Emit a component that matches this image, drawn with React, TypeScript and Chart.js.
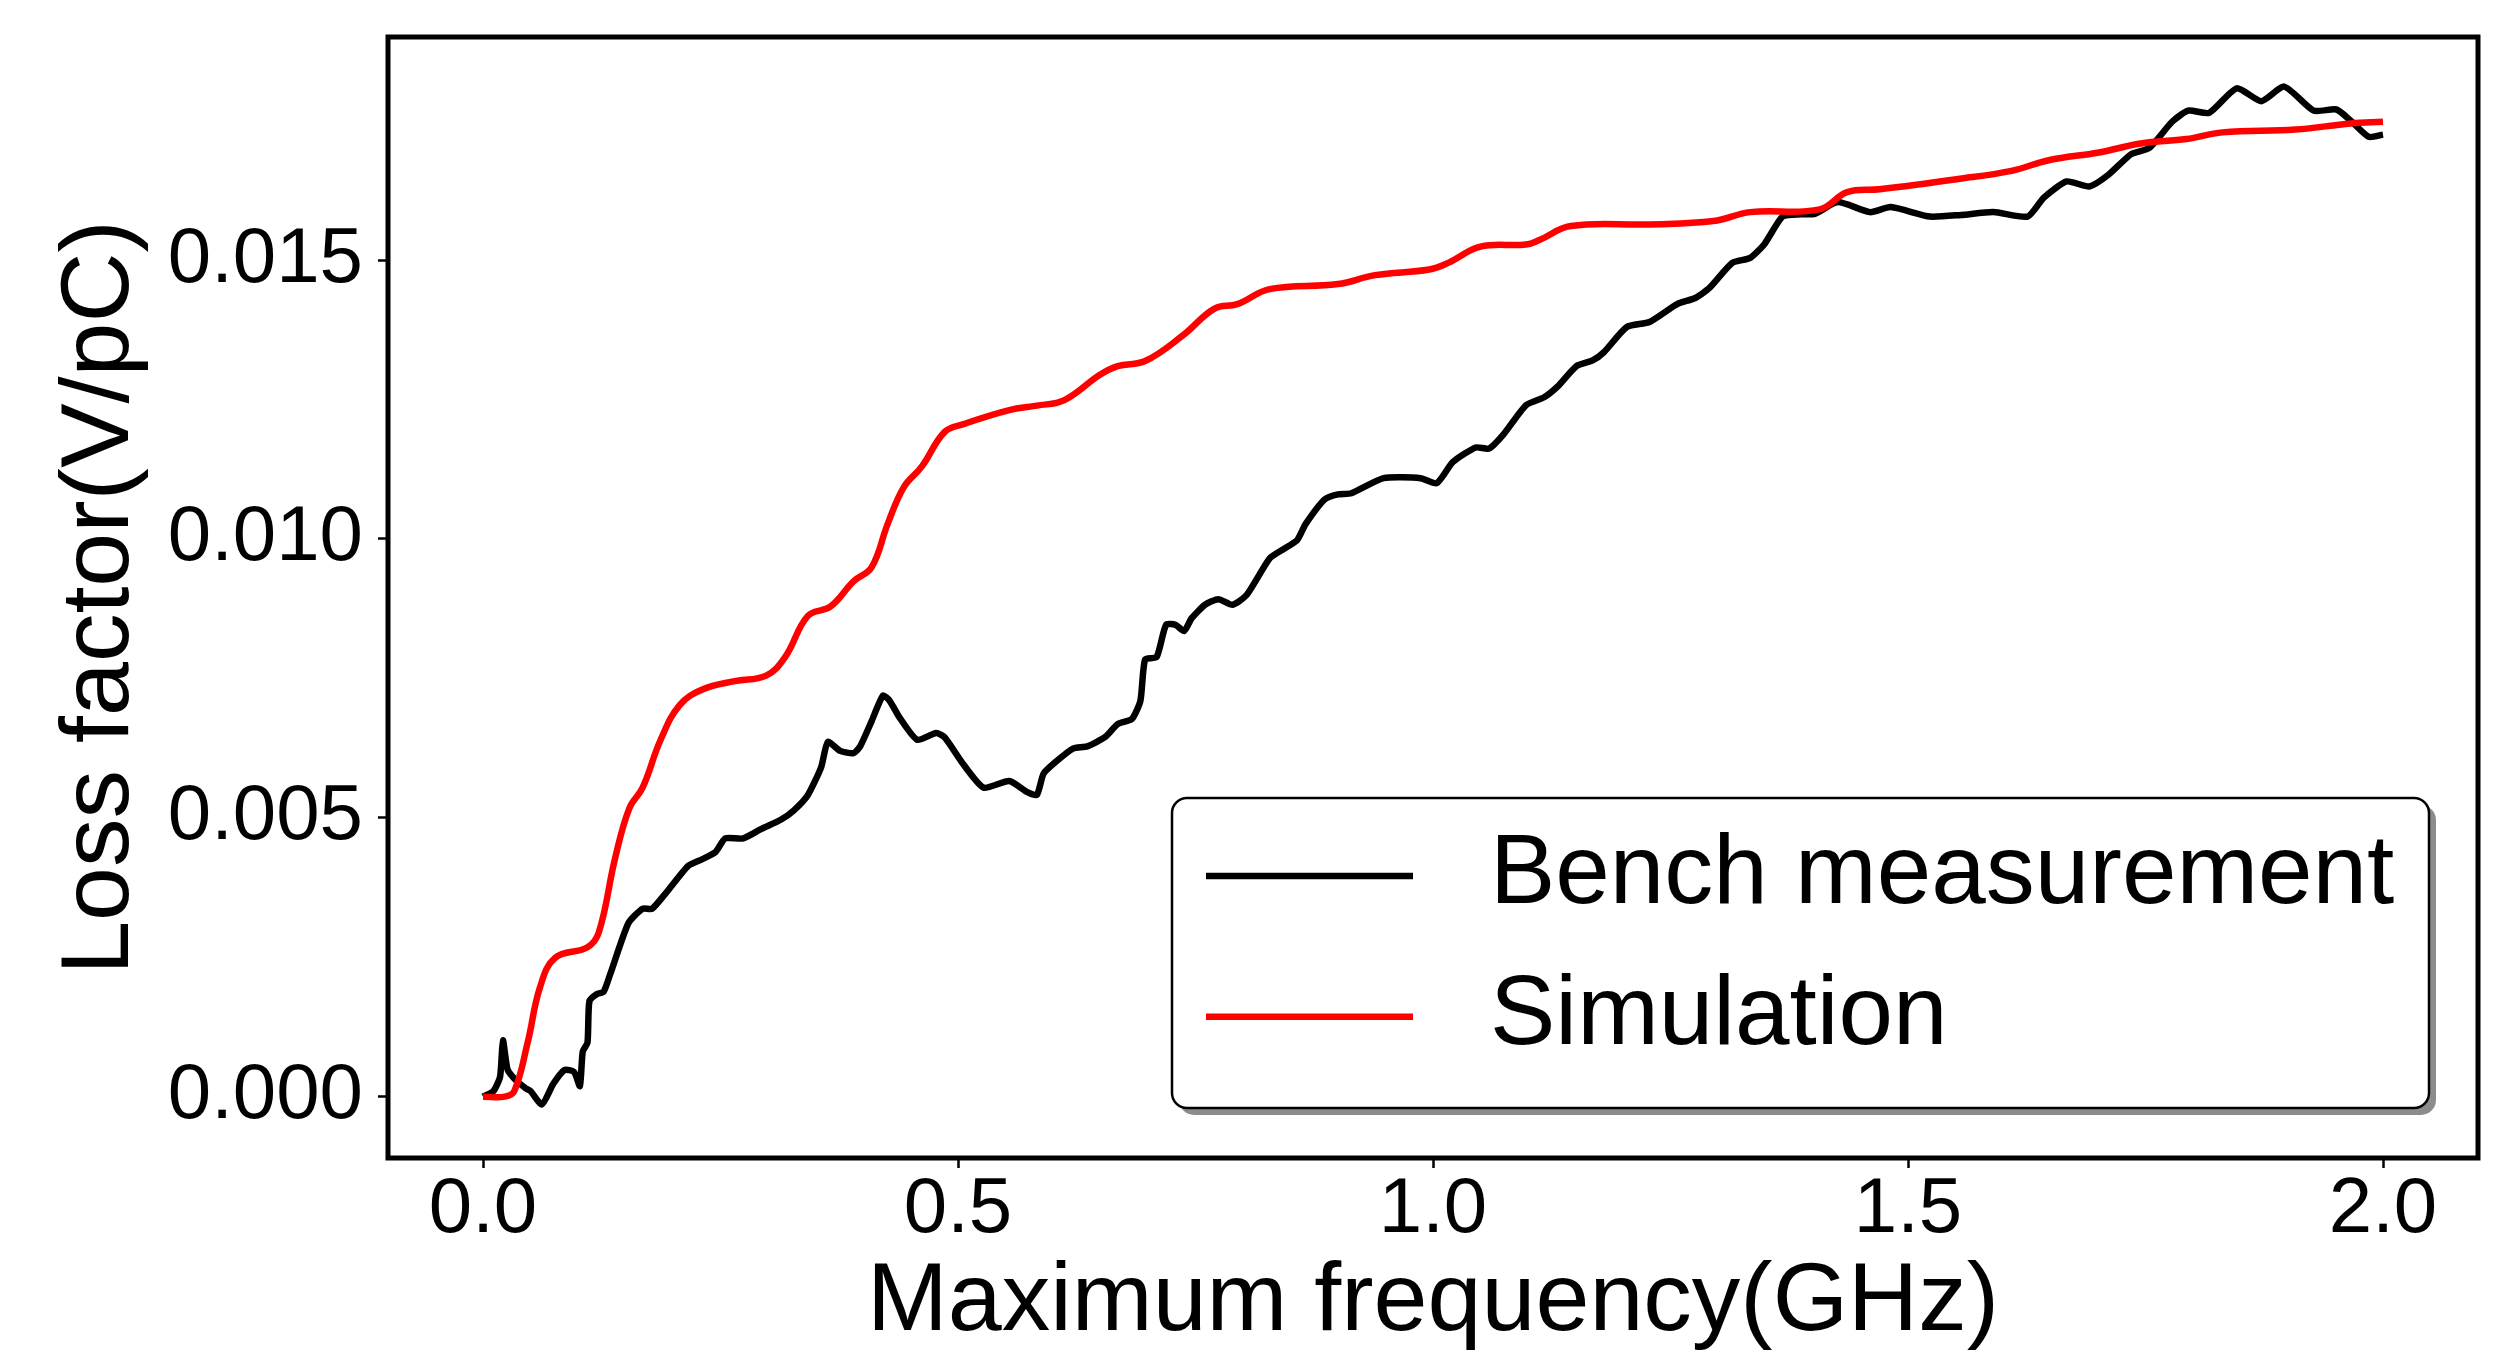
import React, { useEffect, useRef } from 'react';
import { Chart, registerables } from 'chart.js';

Chart.register(...registerables);

// ---------- data ----------
const benchFreq = [
  0.000, 0.011, 0.018, 0.021, 0.026, 0.036, 0.045, 0.050, 0.062, 0.074, 0.086, 0.096, 0.102, 0.105, 0.110,
  0.112, 0.120, 0.127, 0.134, 0.153, 0.168, 0.178, 0.192, 0.216, 0.231, 0.245, 0.255, 0.274, 0.293, 0.313,
  0.327, 0.342, 0.356, 0.363, 0.376, 0.390, 0.397, 0.409, 0.421, 0.428, 0.438, 0.457, 0.477, 0.486, 0.506,
  0.527, 0.554, 0.573, 0.583, 0.590, 0.602, 0.621, 0.636, 0.655, 0.668, 0.683, 0.692, 0.697, 0.709, 0.719,
  0.729, 0.738, 0.746, 0.760, 0.774, 0.789, 0.804, 0.828, 0.842, 0.857, 0.866, 0.886, 0.900, 0.914, 0.948,
  0.987, 1.004, 1.021, 1.045, 1.059, 1.074, 1.098, 1.117, 1.131, 1.151, 1.168, 1.180, 1.204, 1.228, 1.257,
  1.276, 1.291, 1.315, 1.334, 1.349, 1.368, 1.387, 1.402, 1.426, 1.460, 1.482, 1.523, 1.556, 1.590, 1.626,
  1.643, 1.667, 1.691, 1.711, 1.735, 1.754, 1.778, 1.795, 1.817, 1.846, 1.872, 1.896, 1.927, 1.951, 1.966,
  1.985, 2.000,
];
const benchLoss = [
  0.00000, 0.00010, 0.00036, 0.00101, 0.00048, 0.00027, 0.00015, 0.00010, -0.00014, 0.00023, 0.00048, 0.00044, 0.00019, 0.00081, 0.00097,
  0.00171, 0.00184, 0.00188, 0.00220, 0.00311, 0.00337, 0.00337, 0.00364, 0.00414, 0.00426, 0.00439, 0.00463, 0.00463, 0.00480, 0.00496,
  0.00513, 0.00541, 0.00591, 0.00636, 0.00620, 0.00616, 0.00628, 0.00673, 0.00719, 0.00710, 0.00681, 0.00640, 0.00652, 0.00644, 0.00595,
  0.00554, 0.00566, 0.00546, 0.00541, 0.00579, 0.00599, 0.00624, 0.00628, 0.00645, 0.00668, 0.00677, 0.00710, 0.00784, 0.00788, 0.00846,
  0.00846, 0.00835, 0.00858, 0.00882, 0.00892, 0.00882, 0.00900, 0.00965, 0.00981, 0.00998, 0.01027, 0.01071, 0.01080, 0.01082, 0.01109,
  0.01109, 0.01100, 0.01138, 0.01164, 0.01162, 0.01187, 0.01240, 0.01254, 0.01273, 0.01310, 0.01320, 0.01335, 0.01380, 0.01389, 0.01421,
  0.01432, 0.01450, 0.01495, 0.01504, 0.01529, 0.01578, 0.01582, 0.01583, 0.01604, 0.01586, 0.01595, 0.01578, 0.01581, 0.01586, 0.01578,
  0.01612, 0.01641, 0.01632, 0.01653, 0.01690, 0.01701, 0.01748, 0.01768, 0.01764, 0.01808, 0.01785, 0.01811, 0.01768, 0.01770, 0.01750,
  0.01721, 0.01725,
];

const simFreq = [
  0.000, 0.023, 0.033, 0.047, 0.060, 0.076, 0.110, 0.122, 0.139, 0.154, 0.168, 0.187, 0.207, 0.231, 0.265,
  0.298, 0.318, 0.342, 0.366, 0.390, 0.409, 0.426, 0.443, 0.462, 0.486, 0.506, 0.554, 0.583, 0.612, 0.649,
  0.668, 0.697, 0.736, 0.770, 0.794, 0.828, 0.900, 0.939, 0.996, 1.016, 1.050, 1.098, 1.112, 1.145, 1.228,
  1.295, 1.334, 1.407, 1.436, 1.470, 1.551, 1.609, 1.648, 1.701, 1.745, 1.793, 1.831, 1.908, 1.966, 2.000,
];
const simLoss = [
  0.00000, 0.00000, 0.00010, 0.00097, 0.00196, 0.00249, 0.00268, 0.00295, 0.00427, 0.00517, 0.00554, 0.00640, 0.00702, 0.00730, 0.00745,
  0.00755, 0.00788, 0.00862, 0.00879, 0.00924, 0.00949, 0.01027, 0.01093, 0.01130, 0.01192, 0.01206, 0.01231, 0.01239, 0.01249, 0.01294,
  0.01310, 0.01319, 0.01364, 0.01413, 0.01421, 0.01448, 0.01457, 0.01473, 0.01483, 0.01495, 0.01524, 0.01528, 0.01536, 0.01561, 0.01564,
  0.01570, 0.01586, 0.01591, 0.01622, 0.01627, 0.01645, 0.01660, 0.01679, 0.01693, 0.01709, 0.01717, 0.01729, 0.01734, 0.01745, 0.01748,
];

const seriesLabels = ['Bench measurement', 'Simulation'];
const seriesColors = ['#000000', '#ff0000'];
const xTickValues = [0.0, 0.5, 1.0, 1.5, 2.0];
const yTickValues = [0.0, 0.005, 0.01, 0.015];
const xTitle = 'Maximum frequency(GHz)';
const yTitle = 'Loss factor(V/pC)';
const xRange = [-0.1, 2.1];
const yRange = [-0.0011, 0.019];

const FONT = "'Liberation Sans', Arial, sans-serif";
const W = 2501;
const H = 1357;

function roundRectPath(ctx: CanvasRenderingContext2D, x: number, y: number, w: number, h: number, r: number) {
  ctx.beginPath();
  ctx.moveTo(x + r, y);
  ctx.lineTo(x + w - r, y);
  ctx.arcTo(x + w, y, x + w, y + r, r);
  ctx.lineTo(x + w, y + h - r);
  ctx.arcTo(x + w, y + h, x + w - r, y + h, r);
  ctx.lineTo(x + r, y + h);
  ctx.arcTo(x, y + h, x, y + h - r, r);
  ctx.lineTo(x, y + r);
  ctx.arcTo(x, y, x + r, y, r);
  ctx.closePath();
}

const framePlugin = {
  id: 'frameAndLegend',
  afterDraw(chart: any) {
    const ctx: CanvasRenderingContext2D = chart.ctx;
    const a = chart.chartArea;
    ctx.save();
    // axes frame
    ctx.strokeStyle = '#000';
    ctx.lineWidth = 5;
    ctx.strokeRect(a.left, a.top, a.right - a.left, a.bottom - a.top);

    // legend box
    const bx = 1172, by = 798, bw = 1257, bh = 310, r = 15;
    ctx.fillStyle = 'rgba(0,0,0,0.45)';
    roundRectPath(ctx, bx + 7, by + 7, bw, bh, r);
    ctx.fill();
    ctx.fillStyle = '#ffffff';
    roundRectPath(ctx, bx, by, bw, bh, r);
    ctx.fill();
    ctx.lineWidth = 2.5;
    ctx.strokeStyle = '#000';
    ctx.stroke();

    ctx.font = `98px ${FONT}`;
    ctx.textBaseline = 'middle';
    ctx.textAlign = 'left';
    seriesLabels.forEach((label, i) => {
      const y = 876 + i * 140.7;
      ctx.strokeStyle = seriesColors[i];
      ctx.lineWidth = 6.5;
      ctx.lineCap = 'butt';
      ctx.beginPath();
      ctx.moveTo(1206, y);
      ctx.lineTo(1413, y);
      ctx.stroke();
      ctx.fillStyle = '#000';
      ctx.fillText(label, 1490, y);
    });
    ctx.restore();
  },
};

export default function App() {
  const ref = useRef<HTMLCanvasElement | null>(null);

  useEffect(() => {
    document.body.style.margin = '0';
    const canvas = ref.current;
    if (!canvas) return;
    const bench = benchFreq.map((f, i) => ({ x: f, y: benchLoss[i] }));
    const sim = simFreq.map((f, i) => ({ x: f, y: simLoss[i] }));

    const chart = new Chart(canvas, {
      type: 'line',
      data: {
        datasets: [
          {
            label: seriesLabels[0],
            data: bench,
            borderColor: seriesColors[0],
            backgroundColor: seriesColors[0],
            borderWidth: 6.5,
            pointRadius: 0,
            tension: 0.2,
            fill: false,
            order: 1,
          },
          {
            label: seriesLabels[1],
            data: sim,
            borderColor: seriesColors[1],
            backgroundColor: seriesColors[1],
            borderWidth: 6.5,
            pointRadius: 0,
            tension: 0.4,
            fill: false,
            order: 0,
          },
        ],
      },
      options: {
        responsive: false,
        animation: false,
        devicePixelRatio: 1,
        layout: { padding: { left: 0, top: 37, right: 23, bottom: 0 } },
        plugins: {
          legend: { display: false },
          tooltip: { enabled: false },
          title: { display: false },
        },
        scales: {
          x: {
            type: 'linear',
            min: xRange[0],
            max: xRange[1],
            afterBuildTicks: (scale: any) => {
              scale.ticks = xTickValues.map((v) => ({ value: v }));
            },
            afterFit: (scale: any) => {
              scale.height = 199;
              scale.paddingLeft = 0;
              scale.paddingRight = 0;
              scale.paddingTop = 0;
              scale.paddingBottom = 0;
            },
            border: { display: false },
            grid: {
              display: true,
              drawOnChartArea: false,
              drawTicks: true,
              tickLength: 10,
              tickWidth: 2.5,
              tickColor: '#000',
            },
            ticks: {
              color: '#000',
              padding: 3,
              maxRotation: 0,
              autoSkip: false,
              font: { family: FONT, size: 78, lineHeight: 1 },
              callback: (v: any) => Number(v).toFixed(1),
            },
            title: {
              display: true,
              text: xTitle,
              color: '#000',
              font: { family: FONT, size: 97, lineHeight: 1 },
              padding: { top: 0, bottom: 5.5 },
            },
          },
          y: {
            type: 'linear',
            min: yRange[0],
            max: yRange[1],
            afterBuildTicks: (scale: any) => {
              scale.ticks = yTickValues.map((v) => ({ value: v }));
            },
            afterFit: (scale: any) => {
              scale.width = 388;
              scale.paddingLeft = 0;
              scale.paddingRight = 0;
              scale.paddingTop = 0;
              scale.paddingBottom = 0;
            },
            border: { display: false },
            grid: {
              display: true,
              drawOnChartArea: false,
              drawTicks: true,
              tickLength: 10,
              tickWidth: 2.5,
              tickColor: '#000',
            },
            ticks: {
              color: '#000',
              padding: 15,
              autoSkip: false,
              font: { family: FONT, size: 78, lineHeight: 1 },
              callback: (v: any) => Number(v).toFixed(3),
            },
            title: {
              display: true,
              text: yTitle,
              color: '#000',
              font: { family: FONT, size: 97, lineHeight: 1 },
              padding: { top: 52.5, bottom: 0 },
            },
          },
        },
      },
      plugins: [framePlugin],
    } as any);

    return () => chart.destroy();
  }, []);

  return (
    <div style={{ position: 'absolute', left: 0, top: 0, width: W, height: H, background: '#fff' }}>
      <canvas ref={ref} width={W} height={H} style={{ width: W, height: H, display: 'block' }} />
    </div>
  );
}
